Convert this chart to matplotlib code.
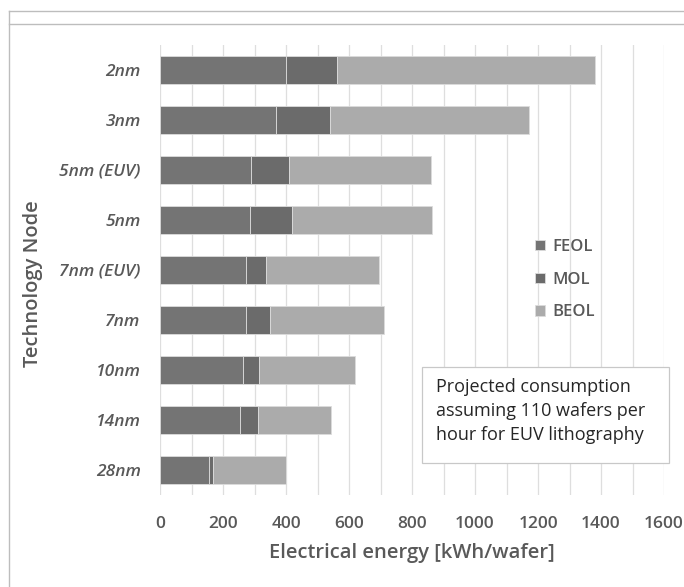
import matplotlib.pyplot as plt
import numpy as np
from matplotlib.lines import Line2D
from matplotlib.patches import Rectangle

nodes = ['2nm', '3nm', '5nm (EUV)', '5nm', '7nm (EUV)', '7nm', '10nm', '14nm', '28nm']
feol = [400, 369, 290, 285, 274, 274, 262, 253, 155]
mol = [162, 172, 121, 133, 61, 74, 52, 58, 14]
total = [1382, 1170, 861, 865, 694, 711, 619, 543, 399]
beol = [t - f - m for t, f, m in zip(total, feol, mol)]

note = 'Projected consumption\nassuming 110 wafers per\nhour for EUV lithography'

plt.rcParams['font.family'] = ['Open Sans', 'DejaVu Sans']
txt = '#595959'

fig = plt.figure(figsize=(6.84, 5.87), dpi=100)
ax = fig.add_axes([160 / 684, 1 - 495 / 587, (664 - 160) / 684, 450 / 587])

y = np.arange(len(nodes))
h = 0.57
ax.barh(y, feol, height=h, color='#747474', edgecolor='#dcdcdc', linewidth=0.6, label='FEOL', zorder=3)
ax.barh(y, mol, left=feol, height=h, color='#6b6b6b', edgecolor='#dcdcdc', linewidth=0.6, label='MOL', zorder=3)
ax.barh(y, beol, left=np.add(feol, mol), height=h, color='#ababab', edgecolor='#dcdcdc', linewidth=0.6,
        label='BEOL', zorder=3)

ax.set_xlim(0, 1600)
ax.set_ylim(len(nodes) - 0.5, -0.5)
ax.set_xticks(np.arange(0, 1601, 200))
ax.set_xticks(np.arange(100, 1600, 200), minor=True)
ax.grid(True, axis='x', which='both', color='#dedede', linewidth=0.9, zorder=0)
ax.set_yticks(y)
ax.set_yticklabels(nodes, fontstyle='italic', fontweight='semibold', fontsize=12.5, color=txt)
ax.tick_params(axis='both', which='both', length=0)
ax.tick_params(axis='y', pad=14)
ax.tick_params(axis='x', pad=15, labelsize=12.5, labelcolor=txt)
for lab in ax.get_xticklabels():
    lab.set_fontweight('semibold')
for s in ax.spines.values():
    s.set_visible(False)

ax.set_xlabel('Electrical energy [kWh/wafer]', fontsize=14.5, fontweight='semibold', color=txt, labelpad=8)
ax.set_ylabel('Technology Node', fontsize=14.5, fontweight='semibold', color=txt)
ax.yaxis.set_label_coords(-0.232, 0.47)

leg = ax.legend(loc='upper left', bbox_to_anchor=(520 / 684, 1 - 224 / 587), bbox_transform=fig.transFigure,
                frameon=False, fontsize=12, handlelength=0.6, handleheight=0.6, handletextpad=0.45,
                labelspacing=1.0)
for t in leg.get_texts():
    t.set_color(txt)
    t.set_fontweight('semibold')

fig.add_artist(Rectangle((422 / 684, 1 - 463 / 587), 247 / 684, 96 / 587, transform=fig.transFigure,
                         facecolor='white', edgecolor='#c8c8c8', linewidth=0.9, zorder=4))
fig.text(436 / 684, 1 - 411 / 587, note, fontsize=13, color='#262626', va='center', ha='left',
         linespacing=1.42, zorder=5)

# outer frame lines from the screenshot
fig.add_artist(Line2D([9 / 684, 1], [1 - 11 / 587, 1 - 11 / 587], color='#bdbdbd', linewidth=1))
fig.add_artist(Line2D([9 / 684, 1], [1 - 24 / 587, 1 - 24 / 587], color='#bdbdbd', linewidth=1))
fig.add_artist(Line2D([9 / 684, 9 / 684], [0, 1 - 11 / 587], color='#bdbdbd', linewidth=1))

fig.savefig('out.png', dpi=100)
